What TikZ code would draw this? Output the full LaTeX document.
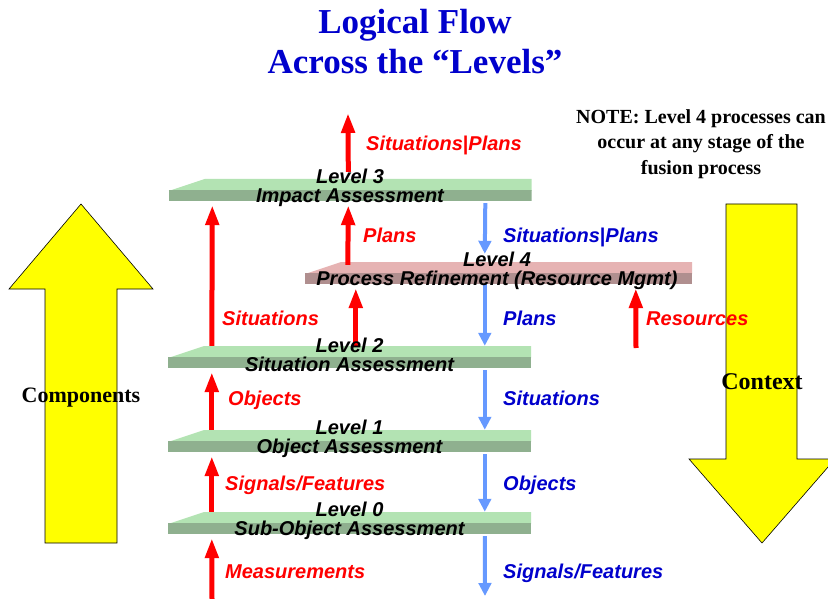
\documentclass[tikz,border=0pt]{standalone}
\usepackage{fontspec}
\setmainfont{Liberation Serif}
\setsansfont{Liberation Sans}
\usetikzlibrary{arrows.meta,positioning}
\definecolor{titleblue}{HTML}{0000CC}
\definecolor{flowred}{HTML}{FF0000}
\definecolor{flowblue}{HTML}{6699FF}
\definecolor{slabgreen}{HTML}{B3E3B3}
\definecolor{slabgreendk}{HTML}{8FB08F}
\definecolor{slabpink}{HTML}{E6B3B3}
\definecolor{slabpinkdk}{HTML}{B08F8F}
\definecolor{bigyellow}{HTML}{FFFF00}
\tikzset{
  levelplate/.style 2 args={
    rectangle, minimum width=363pt, minimum height=22pt, inner sep=0pt,
    path picture={
      \fill[#1] ([xshift=36pt]path picture bounding box.north west)
        -- (path picture bounding box.north east)
        -- ([yshift=-12pt]path picture bounding box.north east)
        -- ([yshift=-12pt]path picture bounding box.north west) -- cycle;
      \fill[#2] ([yshift=-11pt]path picture bounding box.north west)
        rectangle (path picture bounding box.south east);
    }
  },
  leveltext/.style={
    font=\sffamily\bfseries\itshape\fontsize{20}{19}\selectfont,
    align=center, inner sep=0pt
  },
  upflow/.style={
    -{Triangle[length=20pt,width=13pt]}, line width=5pt, color=flowred
  },
  downflow/.style={
    -{Triangle[length=13pt,width=12.5pt]}, line width=4pt, color=flowblue
  },
  flowlabel/.style={
    font=\sffamily\bfseries\itshape\fontsize{20}{24}\selectfont, text=#1,
    anchor=west, inner sep=0pt, text height=14pt, text depth=0pt
  },
  flowlabel/.default=flowred,
  bigarrow/.style={draw=black, fill=bigyellow, line width=0.6pt},
  sidetext/.style={font=\bfseries\fontsize{#1}{#1}\selectfont},
  notetext/.style={font=\bfseries\fontsize{20}{25.5}\selectfont, align=center}
}

\begin{document}
\begin{tikzpicture}[x=1pt, y=-1pt]
  \useasboundingbox (0,0) rectangle (828,599);
  \clip (0,0) rectangle (828,599);

  % title and note
  \node[font=\bfseries\fontsize{35}{40}\selectfont, text=titleblue, align=center]
    (title) at (415,42) {Logical Flow\\Across the “Levels”};
  \node[notetext] (note) at (701,144)
    {NOTE: Level 4 processes can\\occur at any stage of the\\fusion process};

  % big yellow arrows
  \draw[bigarrow] (45,543) -- (45,289) -- (9,289) -- (81,204) -- (153,289)
    -- (117,289) -- (117,543) -- cycle;
  \node[sidetext=22] (comp) at (81,398) {Components};
  \draw[bigarrow] (726,204) -- (797,204) -- (797,459) -- (835,459) -- (762,543)
    -- (689,459) -- (726,459) -- cycle;
  \node[sidetext=24] (ctx) at (762,382) {Context};

  % the levels
  \node[levelplate={slabgreen}{slabgreendk}] (lvl3) at (350,190) {};
  \node[levelplate={slabpink}{slabpinkdk}, minimum width=387pt] (lvl4) at (498.5,273) {};
  \node[levelplate={slabgreen}{slabgreendk}] (lvl2) at (349.5,357) {};
  \node[levelplate={slabgreen}{slabgreendk}] (lvl1) at (349.5,441) {};
  \node[levelplate={slabgreen}{slabgreendk}] (lvl0) at (349.5,523) {};

  \coordinate (topout) at (348,113);
  \coordinate (resin) at (636,348);
  \coordinate (measin) at (212,599);
  \coordinate (sigout) at (485,596);

  % upward flow (red)
  \draw[upflow] ([xshift=180pt,yshift=7pt]lvl3.north west) -- (topout);
  \draw[upflow] ([xshift=44pt]lvl2.north west) -- ([xshift=44pt,yshift=-4pt]lvl3.south west);
  \draw[upflow] ([xshift=43pt,yshift=-3pt]lvl4.north west) -- ([xshift=180pt,yshift=-4pt]lvl3.south west);
  \draw[upflow] ([xshift=188pt]lvl2.north west) -- ([xshift=51pt,yshift=-4pt]lvl4.south west);
  \draw[upflow] (resin) -- ([xshift=331pt,yshift=-4pt]lvl4.south west);
  \draw[upflow] ([xshift=44pt]lvl1.north west) -- ([xshift=44pt,yshift=-4pt]lvl2.south west);
  \draw[upflow] ([xshift=44pt]lvl0.north west) -- ([xshift=44pt,yshift=-4pt]lvl1.south west);
  \draw[upflow] (measin) -- ([xshift=44pt,yshift=-4pt]lvl0.south west);

  % downward flow (blue)
  \draw[downflow] ([xshift=317pt,yshift=-2pt]lvl3.south west) -- ([xshift=180pt,yshift=8pt]lvl4.north west);
  \draw[downflow] ([xshift=180pt]lvl4.south west) -- ([xshift=317pt]lvl2.north west);
  \draw[downflow] ([xshift=317pt,yshift=-2pt]lvl2.south west) -- ([xshift=317pt]lvl1.north west);
  \draw[downflow] ([xshift=317pt,yshift=-2pt]lvl1.south west) -- ([xshift=317pt]lvl0.north west);
  \draw[downflow] ([xshift=317pt,yshift=-2pt]lvl0.south west) -- (sigout);

  % level names
  \node[leveltext] (lvl3t) at ([yshift=2.5pt]lvl3.center) {Level 3\\Impact Assessment};
  \node[leveltext] (lvl4t) at ([xshift=-1.5pt,yshift=2.5pt]lvl4.center) {Level 4\\Process Refinement (Resource Mgmt)};
  \node[leveltext] (lvl2t) at ([yshift=2.5pt]lvl2.center) {Level 2\\Situation Assessment};
  \node[leveltext] (lvl1t) at ([yshift=2.5pt]lvl1.center) {Level 1\\Object Assessment};
  \node[leveltext] (lvl0t) at ([yshift=2.5pt]lvl0.center) {Level 0\\Sub-Object Assessment};

  % flow labels
  \node[flowlabel] (sitplanup) at (366,144) {Situations\textup{|}Plans};
  \node[flowlabel] (plansup) at (363,235) {Plans};
  \node[flowlabel] (sitsup) at (222,318) {Situations};
  \node[flowlabel] (resup) at (646,318) {Resources};
  \node[flowlabel] (objup) at (228,398) {Objects};
  \node[flowlabel] (sigup) at (225,483) {Signals/Features};
  \node[flowlabel] (measup) at (225,571) {Measurements};
  \node[flowlabel=titleblue] (sitplandn) at (503,235) {Situations\textup{|}Plans};
  \node[flowlabel=titleblue] (plansdn) at (503,318) {Plans};
  \node[flowlabel=titleblue] (sitsdn) at (503,398) {Situations};
  \node[flowlabel=titleblue] (objdn) at (503,483) {Objects};
  \node[flowlabel=titleblue] (sigdn) at (503,571) {Signals/Features};
\end{tikzpicture}
\end{document}
